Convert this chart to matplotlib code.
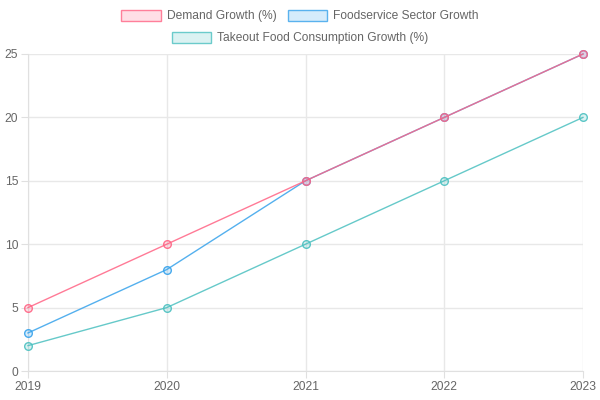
import numpy as np
import matplotlib
matplotlib.use("Agg")
import matplotlib.pyplot as plt
from matplotlib.patches import Patch

years = ["2019", "2020", "2021", "2022", "2023"]
demand = [5, 10, 15, 20, 25]
foodservice = [3, 8, 15, 20, 25]
takeout = [2, 5, 10, 15, 20]

labels = ["Demand Growth (%)", "Foodservice Sector Growth", "Takeout Food Consumption Growth (%)"]
colors = [(255/255, 99/255, 132/255), (54/255, 162/255, 235/255), (75/255, 192/255, 192/255)]
series = [demand, foodservice, takeout]

plt.rcParams['font.family'] = ['Liberation Sans', 'DejaVu Sans']
fs = 8.64  # 12px

fig = plt.figure(figsize=(6, 4), dpi=100)
ax = fig.add_axes([28/600, 1-371/400, 555/600, 317/400])

x = np.arange(len(years))
# chart.js draws the first dataset on top
for i in reversed(range(3)):
    c = colors[i]
    ax.plot(x, series[i], color=c + (0.85,), lw=1, zorder=3+(3-i),
            marker='o', markersize=5.5, markerfacecolor=c + (0.2,),
            markeredgecolor=c + (0.9,), markeredgewidth=1, clip_on=False)

ax.set_xlim(0, 4)
ax.set_ylim(0, 25)
ax.set_xticks(x)
ax.set_xticklabels(years)
ax.set_yticks([0, 5, 10, 15, 20, 25])
ax.grid(True, color='#e8e8e8', lw=1)
ax.set_axisbelow(True)
for s in ax.spines.values():
    s.set_visible(False)
ax.spines['left'].set_visible(True)
ax.spines['bottom'].set_visible(True)
ax.spines['left'].set_color('#e0e0e0')
ax.spines['bottom'].set_color('#e0e0e0')
ax.tick_params(axis='both', colors='#e0e0e0', labelcolor='#666666', labelsize=fs, length=5)
ax.tick_params(axis='x', pad=2)
ax.tick_params(axis='y', pad=2)

handles = [Patch(facecolor=c + (0.2,), edgecolor=c + (0.8,), lw=1) for c in colors]
# two rows, each centred (the way chart.js wraps its legend)
leg1 = fig.legend(handles[:2], labels[:2], loc='center', bbox_to_anchor=(0.5, 1-16/400),
                  ncol=2, frameon=False, fontsize=fs, handlelength=3.3, handleheight=1.0,
                  handletextpad=0.5, columnspacing=0.9)
leg2 = fig.legend(handles[2:], labels[2:], loc='center', bbox_to_anchor=(0.5, 1-38/400),
                  ncol=1, frameon=False, fontsize=fs, handlelength=3.3, handleheight=1.0,
                  handletextpad=0.5)
for leg in (leg1, leg2):
    for t in leg.get_texts():
        t.set_color('#666666')

fig.savefig("out.png", dpi=100)
